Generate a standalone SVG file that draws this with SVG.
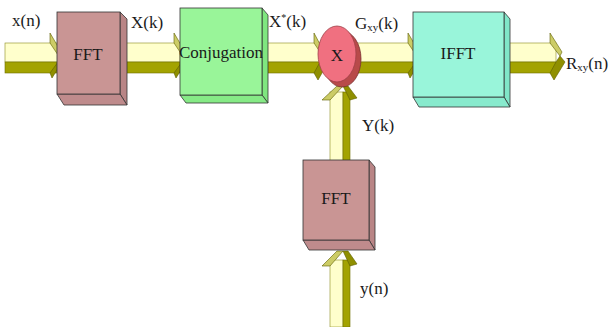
<svg xmlns="http://www.w3.org/2000/svg" width="616" height="327" viewBox="0 0 616 327">
<style>
text{font-family:'Liberation Serif','DejaVu Serif','Times New Roman',serif;font-size:17px;fill:#1a1a1a}
.top{fill:#ffffcc;stroke:#8a8a20;stroke-width:0.6}
.bot{fill:#a3a300;stroke:#6e6e00;stroke-width:0.6}
.head{fill:#8f8f00;stroke:#5e5e00;stroke-width:0.6}
.headl{fill:#cccc66;stroke:#5e5e00;stroke-width:0.6}
.edge{stroke:#333;stroke-width:0.8}
</style>
<rect width="616" height="327" fill="#ffffff"/>
<g id="connectors">
  <g>
    <rect class="top" x="5" y="43" width="53" height="19"/>
    <rect class="bot" x="5" y="62" width="53" height="11"/>
    <polygon class="headl" points="50,33 60,50 58,55 50,43"/>
    <polygon class="head" points="58,55 62,62 52,78 50,73 58,62"/>
  </g>
  <g>
    <rect class="top" x="125" y="43" width="55" height="19"/>
    <rect class="bot" x="125" y="62" width="55" height="11"/>
    <polygon class="headl" points="174,33 184,50 182,55 174,43"/>
    <polygon class="head" points="182,55 186,62 176,78 174,73 182,62"/>
  </g>
  <g>
    <rect class="top" x="264" y="43" width="56" height="19"/>
    <rect class="bot" x="264" y="62" width="56" height="11"/>
    <polygon class="headl" points="314,33 322,48 320,52 314,43"/>
    <polygon class="head" points="320,62 326,66 318,80 314,73"/>
  </g>
  <g>
    <rect class="top" x="352" y="43" width="62" height="19"/>
    <rect class="bot" x="352" y="62" width="62" height="11"/>
    <polygon class="headl" points="408,33 418,50 416,55 408,43"/>
    <polygon class="head" points="416,55 420,62 410,78 408,73 416,62"/>
  </g>
  <g>
    <rect class="top" x="506" y="43" width="50" height="19"/>
    <rect class="bot" x="506" y="62" width="50" height="11"/>
    <polygon class="headl" points="550,33 562,52 560,56 550,43"/>
    <polygon class="head" points="560,56 565,62 554,80 550,73 556,62"/>
  </g>
  <g>
    <rect class="top" x="330" y="92" width="13" height="70"/>
    <rect class="bot" x="343" y="92" width="7" height="70"/>
    <polygon class="headl" points="322,100 337,86 343,86 330,100"/>
    <polygon class="head" points="343,86 348,86 357,98 350,100"/>
  </g>
  <g>
    <rect class="top" x="330" y="260" width="13" height="67"/>
    <rect class="bot" x="343" y="260" width="7" height="67"/>
    <polygon class="headl" points="322,266 337,251 343,251 330,266"/>
    <polygon class="head" points="343,251 348,251 357,264 350,266"/>
  </g>
</g>
<g id="fft1">
  <polygon points="120,12 127,19 127,105 120,94" fill="#b98586" class="edge"/>
  <polygon points="57,94 120,94 127,105 64,105" fill="#bf8b8c" class="edge"/>
  <rect x="57" y="12" width="63" height="82" fill="#c99594" class="edge"/>
  <text x="88" y="60" text-anchor="middle" font-size="18">FFT</text>
</g>
<g id="conjugation">
  <polygon points="262,8 268,15 268,103 262,95" fill="#7fe67f" class="edge"/>
  <polygon points="180,95 262,95 268,103 186,103" fill="#86ea86" class="edge"/>
  <rect x="180" y="8" width="82" height="87" fill="#99f599" class="edge"/>
  <text x="221" y="58" text-anchor="middle" font-size="14">Conjugation</text>
</g>
<g id="multiply">
  <ellipse cx="342" cy="59" rx="19" ry="28" fill="#b84a4a" stroke="#7a3030" stroke-width="0.8"/>
  <ellipse cx="337" cy="54" rx="19" ry="28" fill="#f07080" stroke="#a04048" stroke-width="0.8"/>
  <text x="337" y="61" text-anchor="middle" font-size="19">X</text>
</g>
<g id="ifft">
  <polygon points="504,12 510,19 510,107 504,97" fill="#80e6c8" class="edge"/>
  <polygon points="413,97 504,97 510,107 419,107" fill="#88eacd" class="edge"/>
  <rect x="413" y="12" width="91" height="85" fill="#99f5da" class="edge"/>
  <text x="458" y="59" text-anchor="middle" font-size="18">IFFT</text>
</g>
<g id="fft2">
  <polygon points="369,160 375,167 375,250 369,240" fill="#b98586" class="edge"/>
  <polygon points="303,240 369,240 375,250 309,250" fill="#bf8b8c" class="edge"/>
  <rect x="303" y="160" width="66" height="80" fill="#c99594" class="edge"/>
  <text x="336" y="204" text-anchor="middle" font-size="18">FFT</text>
</g>
<g id="labels">
  <text x="12" y="26">x(n)</text>
  <text x="131" y="28">X(k)</text>
  <text x="269" y="27">X<tspan font-size="10" dy="-6">*</tspan><tspan dy="6">(k)</tspan></text>
  <text x="355" y="29">G<tspan font-size="11" dy="2">xy</tspan><tspan dy="-2">(k)</tspan></text>
  <text x="566" y="69">R<tspan font-size="11" dy="2">xy</tspan><tspan dy="-2">(n)</tspan></text>
  <text x="362" y="131">Y(k)</text>
  <text x="360" y="294">y(n)</text>
</g>
</svg>
